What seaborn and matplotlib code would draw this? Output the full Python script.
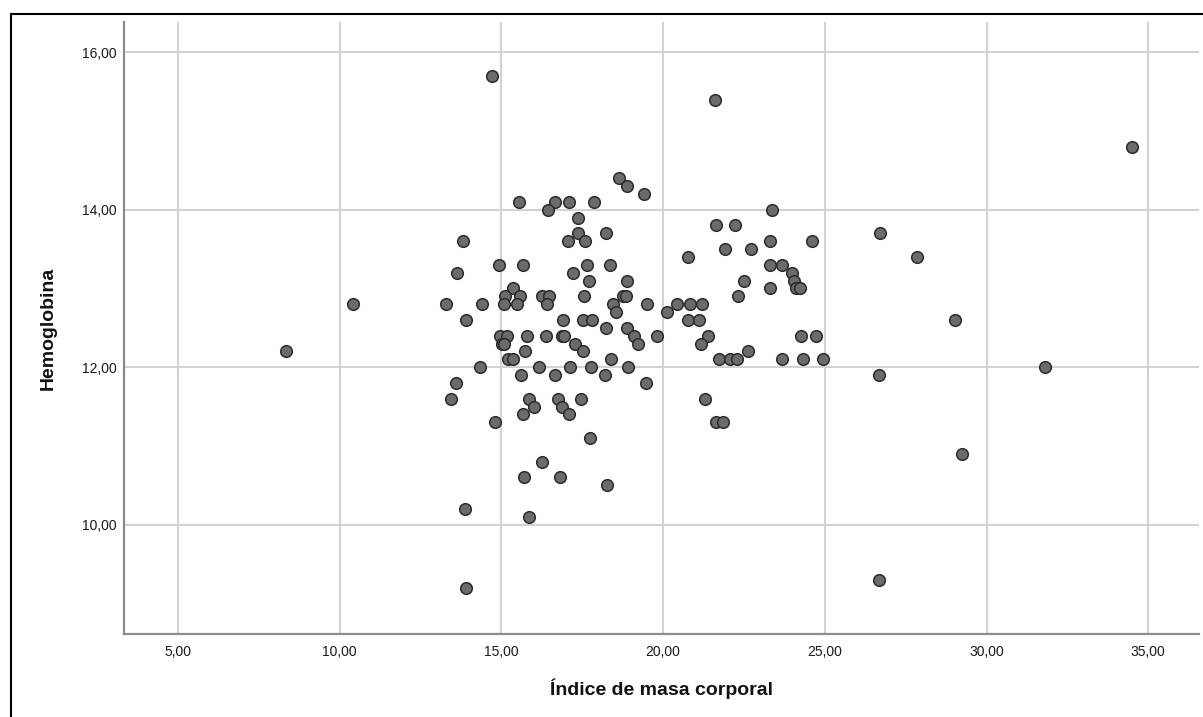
import matplotlib
matplotlib.use("Agg")
import matplotlib.pyplot as plt
from matplotlib.lines import Line2D
from matplotlib.ticker import FuncFormatter, FixedLocator
import seaborn as sns
import pandas as pd

# Índice de masa corporal (x) and Hemoglobina (y)
imc = [
    8.35, 10.4, 14.7, 21.6,
    18.64, 18.87, 19.40, 15.55, 16.66, 17.09, 17.85, 16.43, 17.36, 17.36, 17.05, 17.59,
    18.24, 13.82, 14.93, 15.67, 17.64, 18.36, 13.62, 17.21, 17.70, 18.88, 15.35, 15.11,
    15.56, 16.24, 16.47, 17.55, 18.75, 18.85, 13.28, 14.41, 15.07, 15.49, 16.41, 18.44, 18.55,
    13.89, 16.89, 17.53, 17.81, 18.24, 18.87, 19.10, 19.23, 14.95, 15.16, 15.01, 15.08,
    15.79, 16.37, 16.86, 16.93, 17.28, 17.52, 15.72, 15.19, 15.35, 18.38, 14.34, 16.16,
    17.12, 17.76, 18.90, 15.60, 16.66, 18.20, 13.59, 13.43, 15.86, 16.75, 17.47, 16.00,
    16.87, 15.66, 17.09, 14.79, 17.75,
    16.26, 15.70, 16.80, 18.25, 13.86, 15.85, 13.91,
    23.36, 21.62, 22.23, 23.31, 24.59, 20.76, 21.90, 22.71, 23.31, 23.68, 23.99, 24.06,
    24.10, 24.23, 23.31, 22.51, 22.32, 19.51, 20.11, 20.42, 20.82, 21.19,
    20.76, 21.10, 19.80, 21.39, 21.18, 22.64, 21.72, 22.06, 22.27, 23.67, 24.34, 24.94,
    24.25, 24.73, 19.47, 21.29, 21.63, 21.85,
    34.51, 26.72, 27.85, 29.02, 26.67, 31.81, 29.25, 26.67,
]
hemoglobina = [
    12.2, 12.8, 15.7, 15.4,
    14.4, 14.3, 14.2, 14.1, 14.1, 14.1, 14.1, 14.0, 13.9, 13.7, 13.6, 13.6,
    13.7, 13.6, 13.3, 13.3, 13.3, 13.3, 13.2, 13.2, 13.1, 13.1, 13.0, 12.9,
    12.9, 12.9, 12.9, 12.9, 12.9, 12.9, 12.8, 12.8, 12.8, 12.8, 12.8, 12.8, 12.7,
    12.6, 12.6, 12.6, 12.6, 12.5, 12.5, 12.4, 12.3, 12.4, 12.4, 12.3, 12.3,
    12.4, 12.4, 12.4, 12.4, 12.3, 12.2, 12.2, 12.1, 12.1, 12.1, 12.0, 12.0,
    12.0, 12.0, 12.0, 11.9, 11.9, 11.9, 11.8, 11.6, 11.6, 11.6, 11.6, 11.5,
    11.5, 11.4, 11.4, 11.3, 11.1,
    10.8, 10.6, 10.6, 10.5, 10.2, 10.1, 9.2,
    14.0, 13.8, 13.8, 13.6, 13.6, 13.4, 13.5, 13.5, 13.3, 13.3, 13.2, 13.1,
    13.0, 13.0, 13.0, 13.1, 12.9, 12.8, 12.7, 12.8, 12.8, 12.8,
    12.6, 12.6, 12.4, 12.4, 12.3, 12.2, 12.1, 12.1, 12.1, 12.1, 12.1, 12.1,
    12.4, 12.4, 11.8, 11.6, 11.3, 11.3,
    14.8, 13.7, 13.4, 12.6, 11.9, 12.0, 10.9, 9.3,
]
x_ticks = [5, 10, 15, 20, 25, 30, 35]
y_ticks = [10, 12, 14, 16]
x_label = "Índice de masa corporal"
y_label = "Hemoglobina"

df = pd.DataFrame({"imc": imc, "hb": hemoglobina})

sns.set_theme(style="white")
plt.rcParams["font.family"] = ["Liberation Sans", "DejaVu Sans"]

W, H = 1203, 717
fig = plt.figure(figsize=(W / 100, H / 100), dpi=100)
ax = fig.add_axes([124 / W, (H - 634) / H, (1199 - 124) / W, (634 - 22) / H])

sns.scatterplot(data=df, x="imc", y="hb", ax=ax, s=70, color="#6b6b6b",
                edgecolor="#2b2b2b", linewidth=1.1, alpha=1, zorder=3)

ax.set_xlim(3.33, 36.57)
ax.set_ylim(8.61, 16.385)
ax.xaxis.set_major_locator(FixedLocator(x_ticks))
ax.yaxis.set_major_locator(FixedLocator(y_ticks))
fmt = FuncFormatter(lambda v, p: f"{v:.2f}".replace(".", ","))
ax.xaxis.set_major_formatter(fmt)
ax.yaxis.set_major_formatter(fmt)

ax.grid(True, color="#d2d2d2", linewidth=1.5, zorder=0)
ax.set_axisbelow(True)
for side in ["top", "right"]:
    ax.spines[side].set_visible(False)
for side in ["left", "bottom"]:
    ax.spines[side].set_color("#8c8c8c")
    ax.spines[side].set_linewidth(1.6)

ax.tick_params(axis="both", length=0, labelsize=10, labelcolor="#1a1a1a")
ax.tick_params(axis="x", pad=8)
ax.tick_params(axis="y", pad=5.5)

ax.set_xlabel(x_label, fontsize=14, fontweight="bold", color="#111111")
ax.set_ylabel(y_label, fontsize=14, fontweight="bold", color="#111111")
ax.xaxis.set_label_coords(0.5, -0.072)
ax.yaxis.set_label_coords(-0.063, 0.5)

# outer frame (left and top edges visible)
fig.add_artist(Line2D([10.5 / W, 10.5 / W], [0, 1 - 14 / H], transform=fig.transFigure,
                      color="black", linewidth=1.5))
fig.add_artist(Line2D([10.5 / W, 1], [1 - 14 / H, 1 - 14 / H], transform=fig.transFigure,
                      color="black", linewidth=1.5))

fig.savefig("out.png", dpi=100)
